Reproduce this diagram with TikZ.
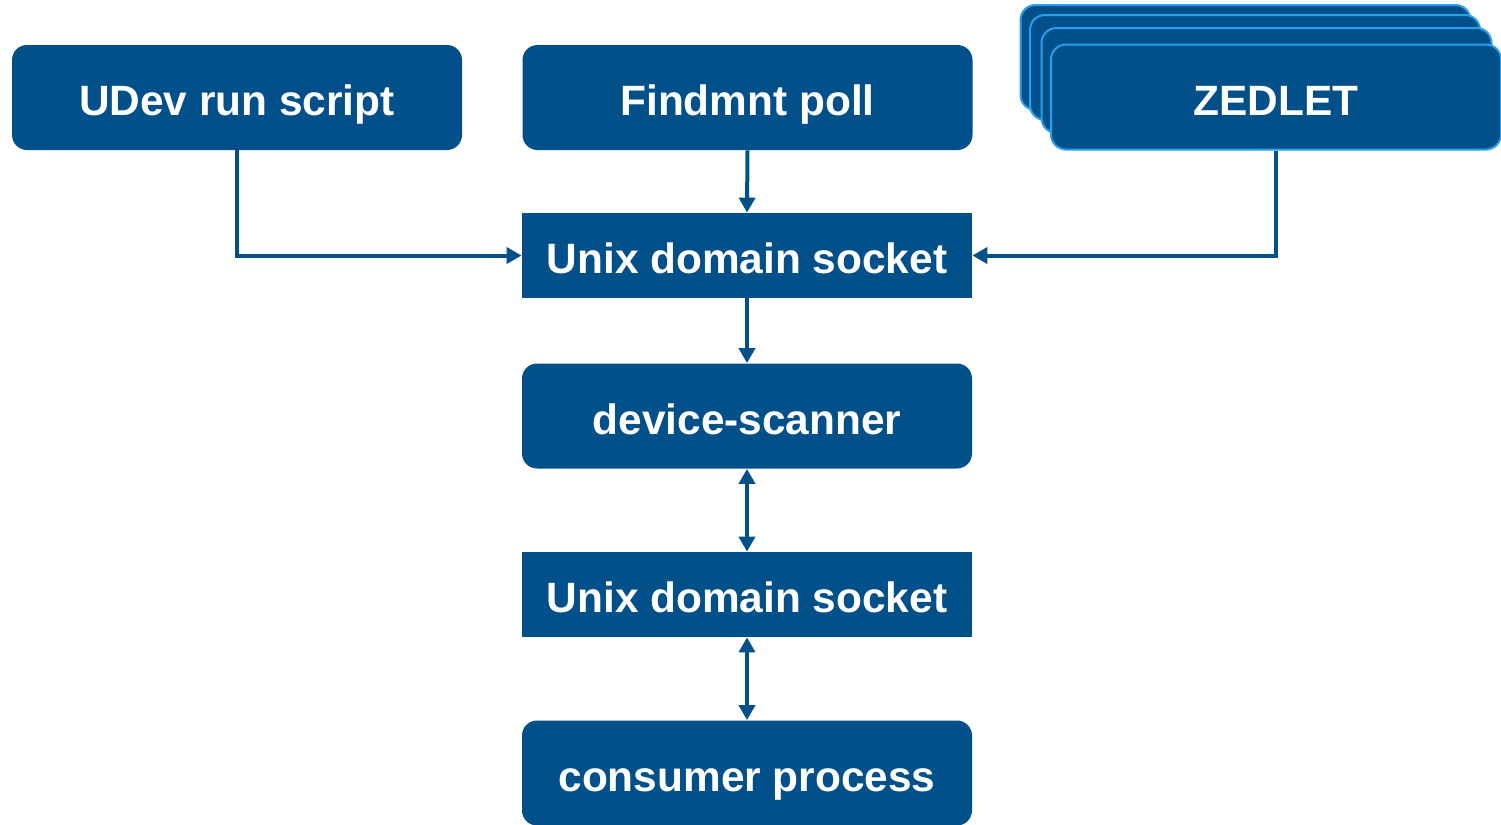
\documentclass[tikz,border=0pt]{standalone}
\usepackage{fontspec}
\setmainfont{Liberation Sans}
\usetikzlibrary{arrows.meta}
\definecolor{boxblue}{RGB}{2,80,137}
\definecolor{edgeblue}{RGB}{40,160,235}
\begin{document}
\begin{tikzpicture}[x=0.5pt,y=-0.5pt,
  box/.style={fill=boxblue,draw=none,text=white,font=\bfseries\fontsize{21.2}{25}\selectfont,
    text height=18.4pt,text depth=0pt,
    minimum width=225pt,minimum height=52.5pt,inner sep=0pt,anchor=center},
  roundbox/.style={box,rounded corners=7.5pt},
  squarebox/.style={box,minimum height=42.5pt},
  layer/.style={roundbox,draw=edgeblue,line width=1pt},
  link/.style={draw=boxblue,line width=2pt,-{Triangle[width=8pt,length=7.5pt]}},
  biglink/.style={link,{Triangle[width=8pt,length=7.5pt]}-{Triangle[width=8pt,length=7.5pt]}}]
\useasboundingbox (0,0) rectangle (1501,825);

% source boxes
\node[roundbox] (udev) at (237,97.5) {UDev run script};
\node[roundbox] (findmnt) at (747.5,97.5) {Findmnt poll};

% stacked ZEDLET instances, back to front
\node[layer] (zedc) at (1245.5,57.5) {};
\node[layer] (zedb) at (1255,67.5) {};
\node[layer] (zeda) at (1266.5,80.5) {};
\node[layer] (zed) at (1276,97) {ZEDLET};

% central chain
\node[squarebox] (sock1) at (747,255.5) {Unix domain socket};
\node[roundbox] (scanner) at (747,416) {device-scanner};
\node[squarebox] (sock2) at (747,594.5) {Unix domain socket};
\node[roundbox] (consumer) at (747,773) {consumer process};

% connectors
\draw[link] (udev.south) |- (sock1.west);
\draw[link] (zed.south) |- (sock1.east);
\draw[link] (findmnt.south) -- (sock1.north);
\draw[link] (sock1.south) -- (scanner.north);
\draw[biglink] (scanner.south) -- (sock2.north);
\draw[biglink] (sock2.south) -- (consumer.north);
\end{tikzpicture}
\end{document}
